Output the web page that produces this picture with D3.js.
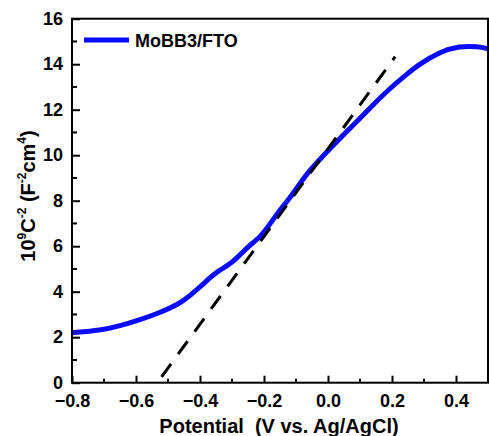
<!DOCTYPE html>
<html>
<head>
<meta charset="utf-8">
<script src="https://cdn.jsdelivr.net/npm/d3@7"></script>
<style>
  html, body { margin: 0; padding: 0; background: #fff; }
  svg { display: block; }
  text { font-family: Arial, "Liberation Sans", sans-serif; font-weight: bold; fill: #000; }
</style>
</head>
<body>
<svg id="chart" width="489" height="436"></svg>
<script>
// Mott–Schottky curve of MoBB3/FTO
const potential = [-0.80, -0.71, -0.65, -0.59, -0.53, -0.46, -0.43, -0.40, -0.37, -0.34,
                   -0.31, -0.28, -0.25, -0.21, -0.18, -0.15, -0.12, -0.09, -0.06, 0.00,
                   0.07, 0.13, 0.19, 0.25, 0.28, 0.35, 0.41, 0.47, 0.50];
const invC2 = [2.20, 2.30, 2.50, 2.76, 3.05, 3.50, 3.85, 4.20, 4.60, 4.95,
               5.17, 5.54, 5.98, 6.42, 7.00, 7.60, 8.10, 8.70, 9.30, 10.20,
               11.20, 12.06, 12.90, 13.60, 13.95, 14.55, 14.80, 14.78, 14.68];

// Linear fit (flat-band extrapolation) end points
const fitX = [-0.52, 0.21];
const fitY = [0.26, 14.33];

const xTicks = [-0.8, -0.6, -0.4, -0.2, 0.0, 0.2, 0.4];
const xMinor = [-0.7, -0.5, -0.3, -0.1, 0.1, 0.3];
const yTicks = [0, 2, 4, 6, 8, 10, 12, 14, 16];
const yMinor = [1, 3, 5, 7, 9, 11, 13, 15];
const seriesName = "MoBB3/FTO";

const svg = d3.select("#chart");
const m = { left: 72, right: 488, top: 18.7, bottom: 382.7 };

const x = d3.scaleLinear().domain([-0.8, 0.5]).range([m.left, m.right]);
const y = d3.scaleLinear().domain([0, 16]).range([m.bottom, m.top]);

// Clip for data marks
svg.append("clipPath").attr("id", "plotClip")
  .append("rect").attr("x", m.left).attr("y", m.top)
  .attr("width", m.right - m.left).attr("height", m.bottom - m.top);

// Curve
const line = d3.line().x((d, i) => x(potential[i])).y((d, i) => y(invC2[i]))
  .curve(d3.curveBasis);
svg.append("path")
  .attr("d", line(potential))
  .attr("fill", "none")
  .attr("stroke", "#0a0aff")
  .attr("stroke-width", 5)
  .attr("stroke-linejoin", "round")
  .attr("clip-path", "url(#plotClip)");

// Dashed tangent
svg.append("line")
  .attr("x1", x(fitX[0])).attr("y1", y(fitY[0]))
  .attr("x2", x(fitX[1])).attr("y2", y(fitY[1]))
  .attr("stroke", "#000")
  .attr("stroke-width", 3)
  .attr("stroke-dasharray", "16,12");

// Axes (ticks point inward)
const xAxis = d3.axisBottom(x).tickValues(xTicks).tickSizeInner(-7).tickSizeOuter(0)
  .tickPadding(12).tickFormat(d3.format(".1f"));
const gx = svg.append("g").attr("transform", `translate(0,${m.bottom})`).call(xAxis);
gx.selectAll("text").attr("font-size", 18).attr("dy", "0.71em");
gx.append("g").selectAll("line").data(xMinor).join("line")
  .attr("x1", d => x(d)).attr("x2", d => x(d)).attr("y1", 0).attr("y2", -4)
  .attr("stroke", "#000").attr("stroke-width", 2);

const yAxis = d3.axisLeft(y).tickValues(yTicks).tickSizeInner(-8).tickSizeOuter(0)
  .tickPadding(9).tickFormat(d3.format("d"));
const gy = svg.append("g").attr("transform", `translate(${m.left},0)`).call(yAxis);
gy.selectAll("text").attr("font-size", 18);
gy.append("g").selectAll("line").data(yMinor).join("line")
  .attr("y1", d => y(d)).attr("y2", d => y(d)).attr("x1", 0).attr("x2", 5)
  .attr("stroke", "#000").attr("stroke-width", 2);

[gx, gy].forEach(g => {
  g.select(".domain").remove();
  g.selectAll(".tick line").attr("stroke-width", 2);
  g.selectAll("text").attr("fill", "#000");
});

// Frame
svg.append("rect")
  .attr("x", m.left).attr("y", m.top)
  .attr("width", m.right - m.left).attr("height", m.bottom - m.top)
  .attr("fill", "none").attr("stroke", "#000").attr("stroke-width", 2);

// Legend
svg.append("line")
  .attr("x1", 84).attr("x2", 129).attr("y1", 40).attr("y2", 40)
  .attr("stroke", "#0a0aff").attr("stroke-width", 5);
svg.append("text").attr("x", 135).attr("y", 46.5).attr("font-size", 18).text(seriesName);

// Axis titles
svg.append("text")
  .attr("x", 279).attr("y", 433)
  .attr("text-anchor", "middle").attr("font-size", 20)
  .attr("xml:space", "preserve")
  .text("Potential  (V vs. Ag/AgCl)");

const yt = svg.append("text")
  .attr("transform", "translate(35,196) rotate(-90)")
  .attr("text-anchor", "middle").attr("font-size", 20);
yt.append("tspan").text("10");
yt.append("tspan").attr("font-size", 12).attr("dy", -9).text("9");
yt.append("tspan").attr("dy", 9).text("C");
yt.append("tspan").attr("font-size", 12).attr("dy", -9).text("-2");
yt.append("tspan").attr("dy", 9).text(" (F");
yt.append("tspan").attr("font-size", 12).attr("dy", -9).text("-2");
yt.append("tspan").attr("dy", 9).text("cm");
yt.append("tspan").attr("font-size", 12).attr("dy", -9).text("4");
yt.append("tspan").attr("dy", 9).text(")");
</script>
</body>
</html>
